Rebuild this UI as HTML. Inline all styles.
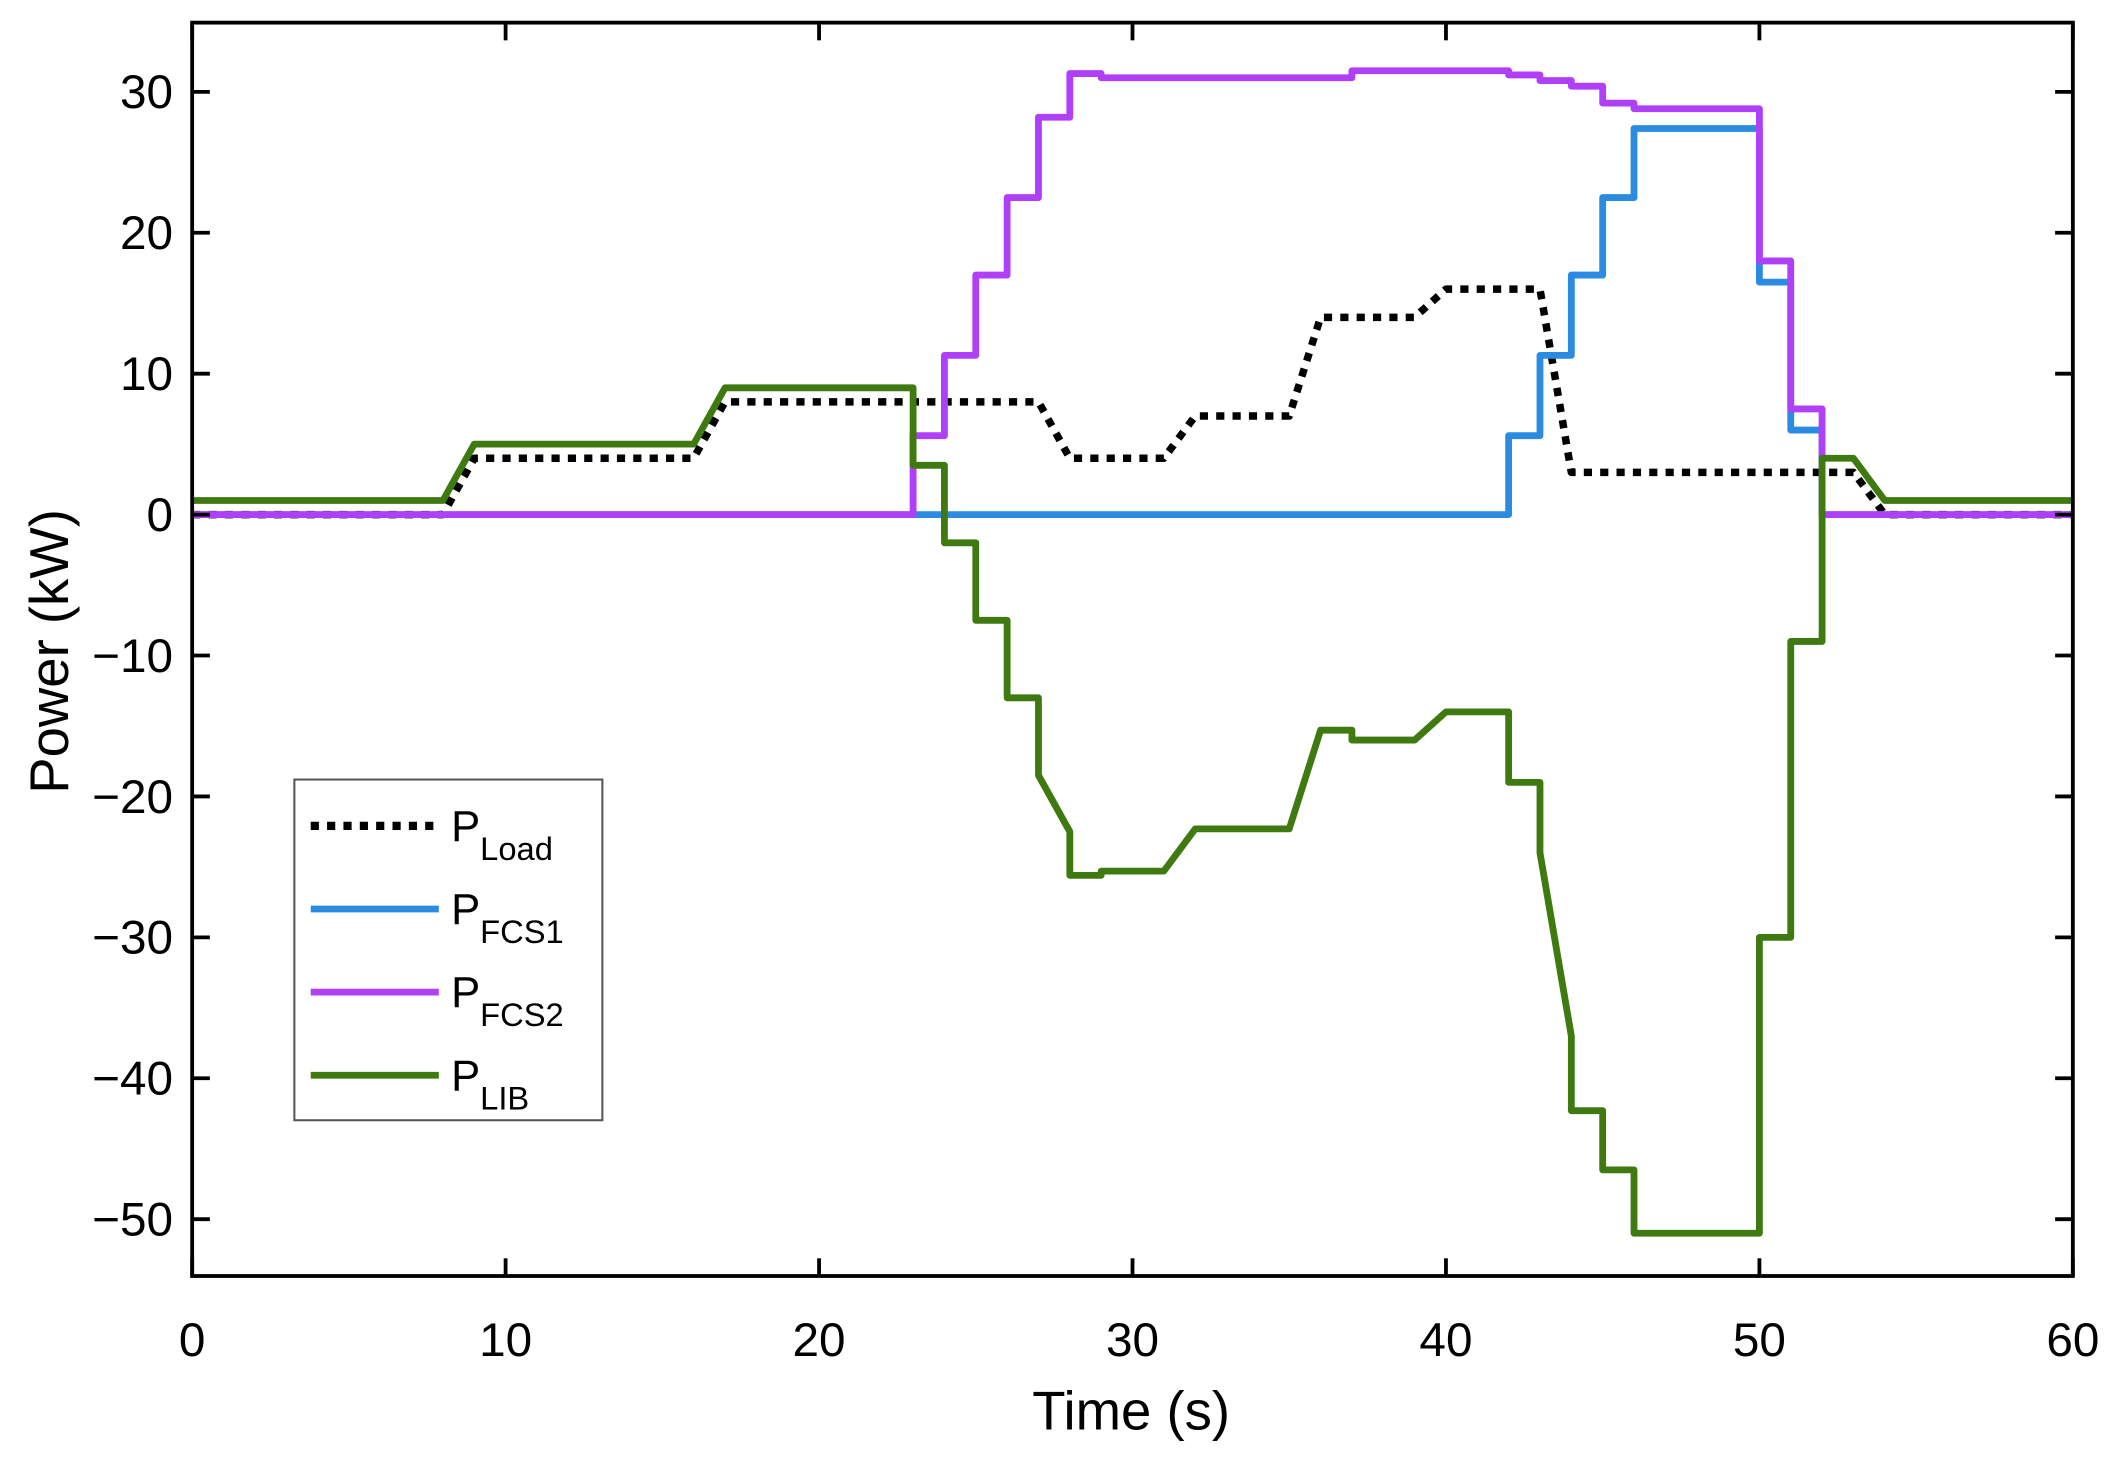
<!DOCTYPE html>
<html><head><meta charset="utf-8">
<style>html,body{margin:0;padding:0;background:#fff}svg{display:block}text{font-family:"Liberation Sans",Arial,sans-serif;fill:#000}</style>
</head><body>
<svg id="chart" width="2126" height="1460" viewBox="0 0 1560 1071.3" xmlns="http://www.w3.org/2000/svg">
<g id="series"></g>
<g id="axes"></g>
<text x="830" y="1049" font-size="40" text-anchor="middle">Time (s)</text>
<text x="0" y="0" font-size="40" text-anchor="middle" transform="translate(50,478) rotate(-90)">Power (kW)</text>
<g id="legend"></g>
</svg>
<script>
// Data arrays
const xTicks = [0,10,20,30,40,50,60];
const yTicks = [30,20,10,0,-10,-20,-30,-40,-50];
const loadT = [0,8,9,16,17,27,28,31,32,35,36,39,40,43,44,53,54,60];
const loadV = [0,0,4,4,8,8,4,4,7,7,14,14,16,16,3,3,0,0];
const fcs1T = [0,42,42,43,43,44,44,45,45,46,46,50,50,51,51,52,52,60];
const fcs1V = [0,0,5.6,5.6,11.3,11.3,17,17,22.5,22.5,27.4,27.4,16.5,16.5,6,6,0,0];
const fcs2T = [0,23,23,24,24,25,25,26,26,27,27,28,28,29,29,37,37,42,42,43,43,44,44,45,45,46,46,50,50,51,51,52,52,60];
const fcs2V = [0,0,5.6,5.6,11.3,11.3,17,17,22.5,22.5,28.2,28.2,31.3,31.3,31,31,31.5,31.5,31.2,31.2,30.8,30.8,30.4,30.4,29.2,29.2,28.8,28.8,18,18,7.5,7.5,0,0];
const libT = [0,8,9,16,17,23,23,24,24,25,25,26,26,27,27,28,28,29,29,31,32,35,36,37,37,39,40,42,42,43,43,44,44,45,45,46,46,50,50,51,51,52,52,53,54,60];
const libV = [1,1,5,5,9,9,3.5,3.5,-2,-2,-7.5,-7.5,-13,-13,-18.5,-22.5,-25.6,-25.6,-25.3,-25.3,-22.3,-22.3,-15.3,-15.3,-16,-16,-14,-14,-19,-19,-24,-37,-42.3,-42.3,-46.5,-46.5,-51,-51,-30,-30,-9,-9,4,4,1,1];

const X0=141,X1=1521,Y0=16.6,Y1=936.3;
const x = t => X0 + (X1-X0)*t/60;
const y = v => 377.6 - 10.34*v;
const NS='http://www.w3.org/2000/svg';
function mk(tag, attrs, parent){const e=document.createElementNS(NS,tag);for(const k in attrs)e.setAttribute(k,attrs[k]);parent.appendChild(e);return e;}

const sg=document.getElementById('series');
function drawLine(T,V,color,name,dash){
  const pts=T.map((t,i)=>x(t).toFixed(2)+','+y(V[i]).toFixed(2)).join(' ');
  const p=mk('polyline',{points:pts,fill:'none',stroke:color,'stroke-width':5,'stroke-linejoin':'round'},sg);
  if(dash){p.setAttribute('stroke-dasharray',dash);p.setAttribute('stroke-width',5.5);}
  
  
}
drawLine(loadT,loadV,'#000','line-p-load','6 6');
drawLine(fcs1T,fcs1V,'#2a8be0','line-p-fcs1');
drawLine(fcs2T,fcs2V,'#b040f8','line-p-fcs2');
drawLine(libT,libV,'#3f7a10','line-p-lib');

const ag=document.getElementById('axes');
const frame=mk('rect',{x:X0,y:Y0,width:X1-X0,height:Y1-Y0,fill:'none',stroke:'#000','stroke-width':2.8},ag);


xTicks.forEach(t=>{
  mk('line',{x1:x(t),x2:x(t),y1:Y1,y2:Y1-13,stroke:'#000','stroke-width':2.8},ag);
  mk('line',{x1:x(t),x2:x(t),y1:Y0,y2:Y0+13,stroke:'#000','stroke-width':2.8},ag);
  const tx=mk('text',{x:x(t),y:995,'font-size':35,'text-anchor':'middle'},ag);
  tx.textContent=t;
  
  
});
yTicks.forEach(v=>{
  mk('line',{x1:X0,x2:X0+13,y1:y(v),y2:y(v),stroke:'#000','stroke-width':2.8},ag);
  mk('line',{x1:X1,x2:X1-13,y1:y(v),y2:y(v),stroke:'#000','stroke-width':2.8},ag);
  const tx=mk('text',{x:127,y:y(v)+12,'font-size':35,'text-anchor':'end'},ag);
  tx.textContent=(v<0?'\u2212'+(-v):v);
  
  
});

const lg=document.getElementById('legend');
mk('rect',{x:216,y:572,width:226,height:250,fill:'#fff',stroke:'#555','stroke-width':1.5},lg);
const entries=[['Load','#000','6 6'],['FCS1','#2a8be0',null],['FCS2','#b040f8',null],['LIB','#3f7a10',null]];
entries.forEach((e,i)=>{
  const cy=606+i*61;
  const ln=mk('line',{x1:228,x2:322,y1:cy,y2:cy,stroke:e[1],'stroke-width':e[2]?6:5},lg);
  if(e[2])ln.setAttribute('stroke-dasharray',e[2]);
  
  
  const tx=mk('text',{x:331,y:cy+11,'font-size':32},lg);
  
  
  tx.appendChild(document.createTextNode('P'));
  const s=mk('tspan',{dy:14,'font-size':24},tx);
  s.textContent=e[0];
});
</script>
</body></html>
